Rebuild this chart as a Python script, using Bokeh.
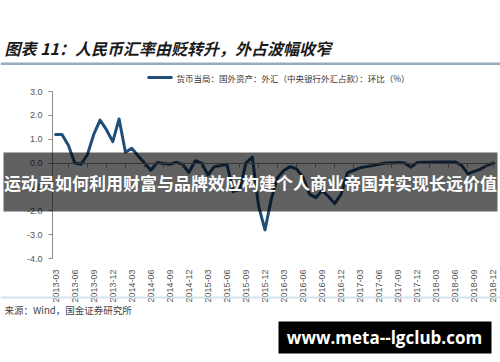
import numpy as np
from bokeh.plotting import figure
from bokeh.models import (Label, BoxAnnotation, PrintfTickFormatter, FixedTicker, Range1d,
                          LinearAxis)
from bokeh.embed import file_html
from bokeh.resources import INLINE

# Quarterly tick labels (every third month, 2013-03 .. 2018-12)
tick_labels = [
    "2013-03", "2013-06", "2013-09", "2013-12",
    "2014-03", "2014-06", "2014-09", "2014-12",
    "2015-03", "2015-06", "2015-09", "2015-12",
    "2016-03", "2016-06", "2016-09", "2016-12",
    "2017-03", "2017-06", "2017-09", "2017-12",
    "2018-03", "2018-06", "2018-09", "2018-12",
]

# Monthly change of FX holdings on the central bank balance sheet (%), 2013-03 .. 2018-12
fx_mom = [
    1.20, 1.20, 0.75, 0.00, -0.05, 0.35, 1.20, 1.80, 1.40, 0.90,
    1.85, 0.45, 0.62, 0.30, 0.00, -0.30, 0.02, -0.02, -0.05, 0.03,
    -0.05, -0.40, 0.10, 0.00, -0.50, -0.15, -0.10, -0.05, -1.20, -1.10,
    0.00, 0.25, -1.80, -2.80, -1.50, -0.60, -0.30, -0.15, -0.25, -0.60,
    -1.30, -1.45, -1.15, -1.40, -1.70, -1.30, -0.40, -0.30, -0.20, -0.15,
    -0.10, -0.05, 0.00, 0.00, 0.02, 0.00, -0.17, 0.02, 0.03, 0.03,
    0.04, 0.04, 0.05, 0.05, -0.10, -0.45, -0.35, -0.25, -0.10, 0.00,
]

y_ticks = [-4, -3, -2, -1, 0, 1, 2, 3]

title_text = "图表 11：人民币汇率由贬转升，外占波幅收窄"
legend_text = "货币当局：国外资产：外汇（中央银行外汇占款）：环比（%）"
source_text = "来源：Wind，国金证券研究所"
banner_text = "运动员如何利用财富与品牌效应构建个人商业帝国并实现长远价值"
site_text = "www.meta--lgclub.com"

CJK = "Noto Sans CJK SC"
LINE_COLOR = "#1f4e79"
AXIS_COLOR = "#8c8c8c"
LABEL_COLOR = "#555555"

W, H = 500, 362
# plot area inside the canvas (pixels): left, right, top, bottom
PL, PR, PT, PB = 52, 496, 91, 258

n = len(fx_mom)
x = list(range(n))
quarter_pos = list(range(0, n, 3))

x0, x1 = -0.5, n - 0.5
y0, y1 = -4.0, 3.0
sx = (PR - PL) / (x1 - x0)
sy = (PB - PT) / (y1 - y0)

# the frame covers the whole canvas; the chart lives in the PL..PR / PT..PB window
p = figure(
    width=W, height=H,
    x_range=Range1d(x0 - PL / sx, x1 + (W - PR) / sx),
    y_range=Range1d(y0 - (H - PB) / sy, y1 + PT / sy),
    output_backend="svg", toolbar_location=None,
    x_axis_location=None, y_axis_location=None,
    min_border=0, min_border_left=0, min_border_right=0,
    min_border_top=0, min_border_bottom=0,
)
p.outline_line_color = None
p.grid.visible = False
p.background_fill_color = "white"
p.border_fill_color = "white"

# y axis at the left edge of the plot window
yax = LinearAxis(fixed_location=x0, bounds=(y0, y1))
yax.ticker = FixedTicker(ticks=y_ticks)
yax.formatter = PrintfTickFormatter(format="%.1f")
yax.axis_line_color = AXIS_COLOR
yax.major_tick_line_color = AXIS_COLOR
yax.major_tick_out = 4
yax.major_tick_in = 0
yax.minor_tick_line_color = None
yax.major_label_standoff = 6
yax.major_label_text_font = "Liberation Sans"
yax.major_label_text_font_size = "9px"
yax.major_label_text_color = LABEL_COLOR
p.add_layout(yax, "left")

# category line crossing at zero, with tick marks between quarters
tick_x = [q - 1 for q in quarter_pos if q >= 1] + [n - 1]
zax = LinearAxis(fixed_location=0, bounds=(x0, x1))
zax.ticker = FixedTicker(ticks=tick_x)
zax.axis_line_color = AXIS_COLOR
zax.major_tick_line_color = AXIS_COLOR
zax.major_tick_out = 4
zax.major_tick_in = 0
zax.minor_tick_line_color = None
zax.major_label_text_color = None
p.add_layout(zax, "below")

# category labels along the bottom of the plot window
xax = LinearAxis(fixed_location=y0, bounds=(x0, x1))
xax.ticker = FixedTicker(ticks=quarter_pos)
xax.major_label_overrides = {i: lab for i, lab in zip(quarter_pos, tick_labels)}
xax.major_label_orientation = np.pi / 2
xax.axis_line_color = None
xax.major_tick_line_color = None
xax.minor_tick_line_color = None
xax.major_label_standoff = 5
xax.major_label_text_font = "Liberation Sans"
xax.major_label_text_font_size = "9px"
xax.major_label_text_color = LABEL_COLOR
p.add_layout(xax, "below")

p.line(x, fx_mom, line_color=LINE_COLOR, line_width=3, line_join="round", line_cap="round")


def canvas_box(left, right, top, bottom, color, alpha=1.0):
    return BoxAnnotation(left=left, right=right, top=top, bottom=bottom,
                         left_units="canvas", right_units="canvas",
                         top_units="canvas", bottom_units="canvas",
                         fill_color=color, fill_alpha=alpha, line_color=None,
                         level="overlay")


def canvas_label(x, y, text, font, size, color, style="normal", align="left"):
    return Label(x=x, y=y, x_units="canvas", y_units="canvas", text=text,
                 text_font=font, text_font_style=style, text_font_size=size,
                 text_color=color, text_baseline="middle", text_align=align,
                 level="overlay")


# header: title and rule
p.add_layout(canvas_label(4, 47, title_text, CJK, "16px", "#1a1a1a", style="bold italic"))
p.add_layout(canvas_box(0, 500, 62, 64.5, "#9aabbb"))

# legend
p.add_layout(canvas_box(147, 172, 75.6, 78.6, LINE_COLOR))
p.add_layout(canvas_label(176, 77, legend_text, CJK, "8.5px", "#333333"))

# footer: rule and source
p.add_layout(canvas_box(0, 500, 296, 298, "#d3e4ea"))
p.add_layout(canvas_label(4, 309, source_text, CJK, "9.5px", "#444444"))

# banner across the plot
p.add_layout(canvas_box(3, 497, 152, 211, "#000000", 0.62))
p.add_layout(canvas_label(250, 182, banner_text, CJK, "17px", "white", style="bold", align="center"))

# site badge
p.add_layout(canvas_box(278, 491, 321, 353, "black"))
p.add_layout(canvas_label(384, 337, site_text, "Open Sans", "17px", "white", style="bold", align="center"))

open("out.html", "w").write(file_html(p, INLINE))
